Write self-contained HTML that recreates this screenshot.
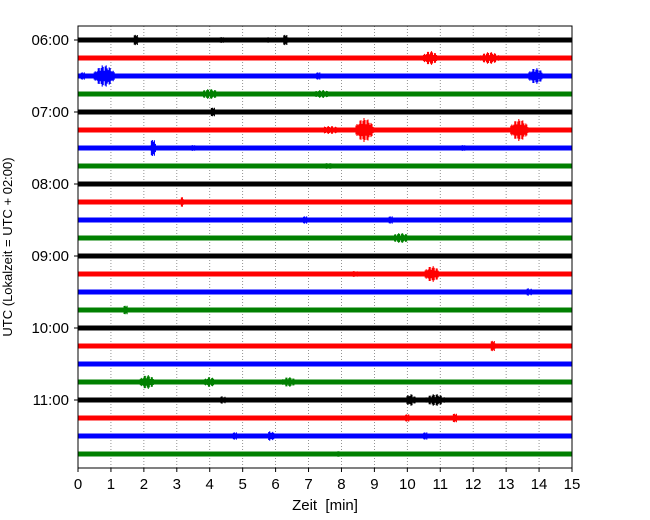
<!DOCTYPE html>
<html><head><meta charset="utf-8"><style>
body{margin:0;background:#fff}
svg{display:block;font-family:"Liberation Sans","DejaVu Sans",sans-serif}
</style></head><body>
<svg id="c" width="650" height="520"></svg>
<script>
const hourLabels=["06:00","07:00","08:00","09:00","10:00","11:00"];
const xTicks=[0,1,2,3,4,5,6,7,8,9,10,11,12,13,14,15];
const traceColors=["#000","#f00","#00f","#008000"];
const traceCount=24;
// events: [trace index, minute, amplitude(px), duration(min)]
const events=[
[0,1.76,7,0.1],[0,4.37,4,0.1],[0,5.8,3,0.3],[0,6.3,7,0.1],
[1,10.7,7,0.6],[1,12.5,6,0.8],
[2,0.8,11,0.8],[2,0.15,5,0.1],[2,7.3,5,0.1],[2,13.9,8,0.6],
[3,4.0,5,0.8],[3,7.4,4,0.8],
[4,4.1,6,0.1],
[5,8.7,12,0.7],[5,13.4,11,0.7],[5,7.65,4,1.0],
[6,2.28,11,0.1],[6,3.5,4,0.1],[6,11.7,4,0.1],
[7,7.6,3,1.0],
[9,3.15,5,0.2],
[10,6.9,5,0.1],[10,9.5,5,0.1],
[11,9.8,5,0.8],
[13,10.75,8,0.6],[13,8.4,3,0.5],
[14,13.7,4,0.3],
[15,1.45,6,0.1],
[17,12.6,7,0.1],
[19,2.1,7,0.6],[19,4.0,5,0.5],[19,6.4,5,0.6],
[20,10.1,6,0.4],[20,10.85,6,0.8],[20,4.4,4,0.3],
[21,10.0,5,0.1],[21,11.45,6,0.1],
[22,4.77,5,0.1],[22,5.85,5,0.3],[22,10.55,5,0.1],
[23,7.9,3,0.2]
];
const L=78,R=572,T=26,B=468;
const X=m=>L+(m/15)*(R-L);
const Y=i=>40+i*18;
const ns="http://www.w3.org/2000/svg";
const svg=document.getElementById("c");
function mk(tag,attrs,parent){const e=document.createElementNS(ns,tag);for(const k in attrs)e.setAttribute(k,attrs[k]);(parent||svg).appendChild(e);return e;}
const grid=mk("g",{});


xTicks.forEach(t=>{if(t>0&&t<15)mk("line",{x1:X(t),x2:X(t),y1:T,y2:B,stroke:"#777","stroke-width":0.8,"stroke-dasharray":"1,2"},grid);});
const tr=mk("g",{});


for(let i=0;i<traceCount;i++){
  const r=mk("rect",{x:L,y:Y(i)-2.5,width:R-L,height:5,fill:traceColors[i%4]},tr);
  
  
}
events.forEach(ev=>{
  const [i,m,a,d]=ev;const c=traceColors[i%4];const y=Y(i);
  const x0=X(m-d/2)-2,x1=X(m+d/2)+2;
  let dpath="";let k=0;
  for(let x=x0;x<=x1;x+=1,k++){
    const u=(x-x0)/(x1-x0);
    const env=Math.pow(Math.sin(Math.PI*u),1.5);
    const f=0.45+0.55*Math.abs(Math.sin(k*2.3));
    const h=Math.max(2.5,a*env*f);
    dpath+=`M${x.toFixed(1)},${(y-h).toFixed(1)}V${(y+h).toFixed(1)}`;
  }
  const p=mk("path",{d:dpath,stroke:c,"stroke-width":1.1,fill:"none"},tr);
  
  
});
const ax=mk("rect",{x:L,y:T,width:R-L,height:B-T,fill:"none",stroke:"#000","stroke-width":1});


xTicks.forEach(t=>{
  mk("line",{x1:X(t),x2:X(t),y1:B,y2:B+4,stroke:"#000"});
  const tx=mk("text",{x:X(t),y:B+21,"font-size":15,"text-anchor":"middle"});tx.textContent=t;
  
  
});
hourLabels.forEach((h,k)=>{
  const y=Y(k*4);
  mk("line",{x1:L-4,x2:L,y1:y,y2:y,stroke:"#000"});
  const tx=mk("text",{x:L-9,y:y+5,"font-size":15,"text-anchor":"end"});tx.textContent=h;
  
  
});
const xl=mk("text",{x:325,y:510,"font-size":15,"text-anchor":"middle",style:"white-space:pre"});xl.textContent="Zeit  [min]";


const yl=mk("text",{x:0,y:0,"font-size":13,"text-anchor":"middle",transform:"translate(12,247) rotate(-90)"});yl.textContent="UTC (Lokalzeit = UTC + 02:00)";


</script>
</body></html>
